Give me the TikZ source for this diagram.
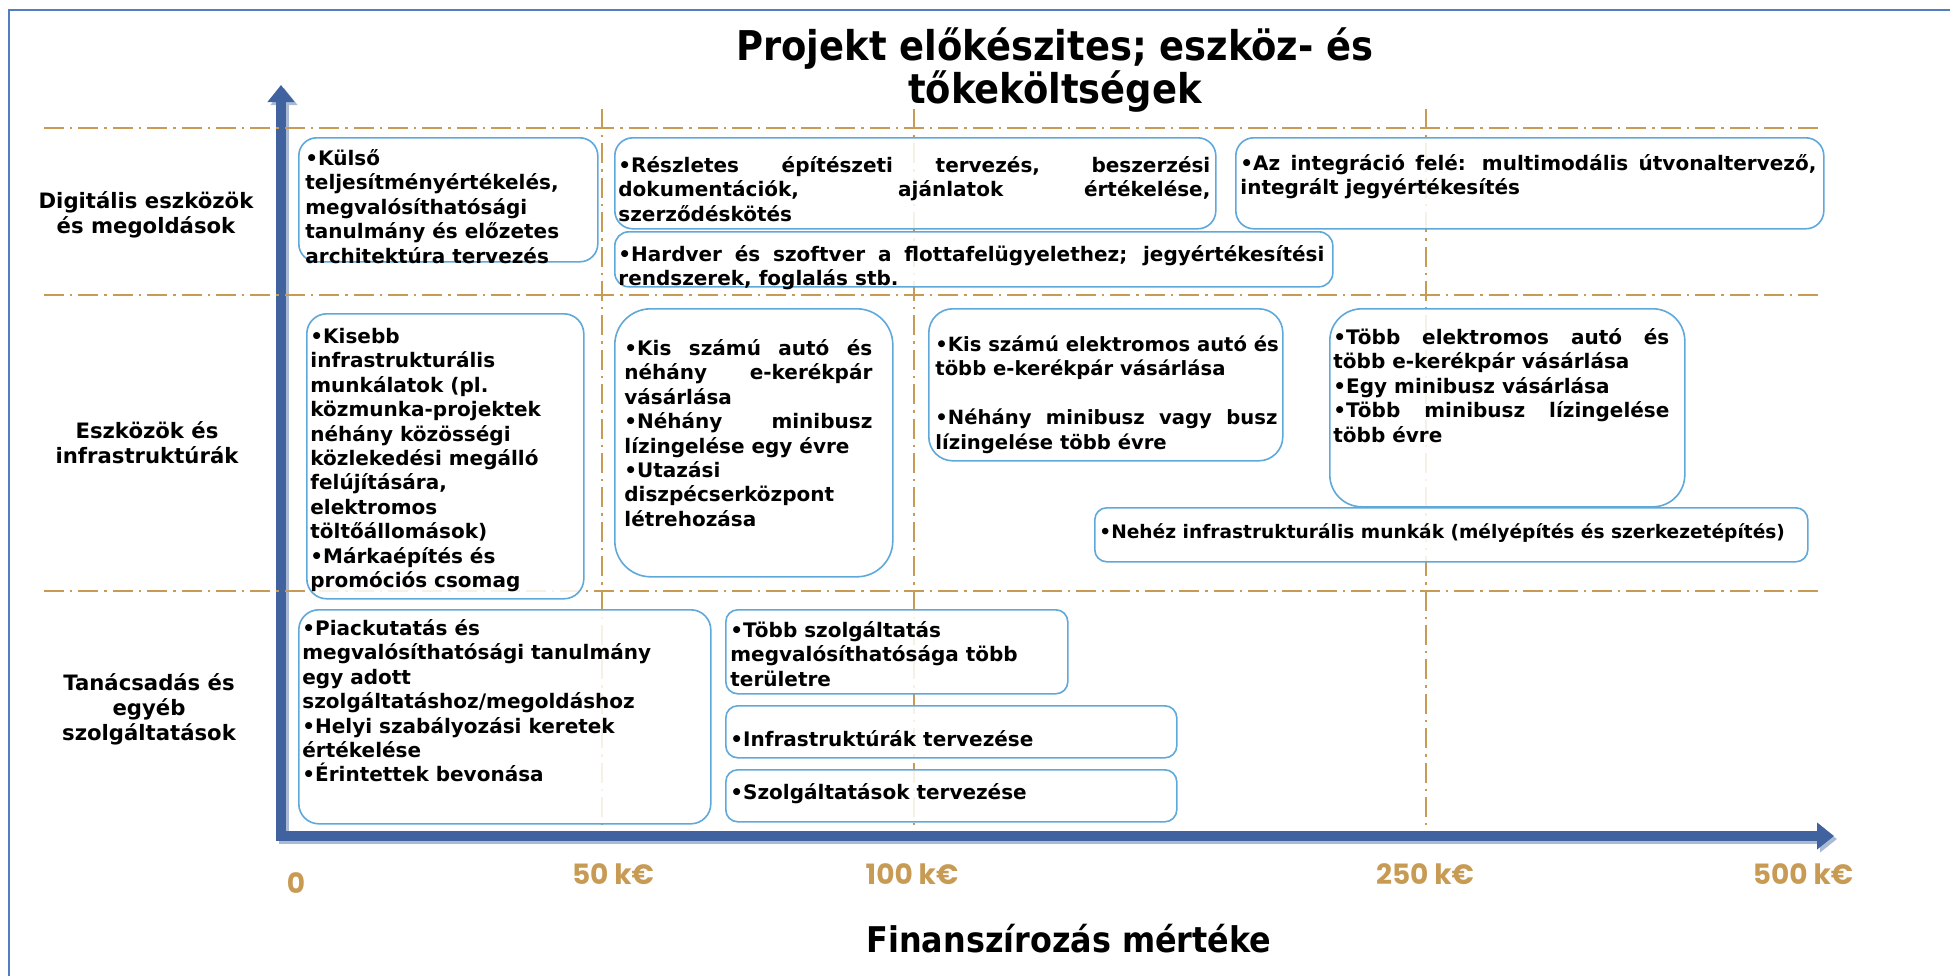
\documentclass[tikz,border=0pt]{standalone}
\usepackage{fontspec}
\setmainfont{DejaVu Sans}
\newfontfamily\titlefont[FakeStretch=0.9]{DejaVu Sans}
\newfontfamily\scalefont{Poppins}
\usetikzlibrary{positioning,arrows.meta}

\definecolor{gridtan}{RGB}{200,155,85}
\definecolor{axisblue}{RGB}{64,98,158}
\definecolor{axisshade}{RGB}{170,185,212}
\definecolor{boxblue}{RGB}{95,168,218}
\definecolor{frameblue}{RGB}{82,125,190}

\newcommand{\jl}[2]{\makebox[#1][s]{#2}}
\newcommand{\fl}{\rule{0pt}{9pt}}

\begin{document}
\begin{tikzpicture}[x=0.5pt,y=-0.5pt,
  boxframe/.style={draw=boxblue, line width=0.8pt, fill=white, fill opacity=0.85,
    rounded corners=#1, anchor=north west, inner sep=0pt},
  boxframe/.default=8pt,
  boxtext/.style={anchor=north west, inner sep=0pt, align=left,
    font=\fontsize{10}{12.2}\selectfont\bfseries},
  rowlabel/.style={align=center, inner sep=0pt, font=\fontsize{10.6}{12.6}\selectfont\bfseries},
  scalelabel/.style={text=gridtan, inner sep=0pt, font=\scalefont\fontsize{14}{14}\selectfont\bfseries},
  gridline/.style={draw=gridtan, line width=1.2pt, dash pattern=on 10pt off 3pt on 1.2pt off 3pt},
  axisline/.style={line width=5.4pt, line join=miter,
    {Triangle[width=13pt,length=8.5pt]}-{Triangle[width=13pt,length=8.5pt]}}]
  \useasboundingbox (0,0) rectangle (1950,976);

  % frame
  \draw[frameblue, line width=0.8pt] (9,976) -- (9,10) -- (1950,10);

  % axes
  \coordinate (ytip) at (281,85);
  \coordinate (origin) at (281,836);
  \coordinate (xtip) at (1834,836);
  \draw[axisline, axisshade] ([shift={(3,3)}]ytip) -- ([shift={(3,3)}]origin) -- ([shift={(3,3)}]xtip);
  \draw[axisline, axisblue] (ytip) -- (origin) -- (xtip);

  % grid
  \draw[gridline] (44,128) -- (1822,128);
  \draw[gridline] (44,295) -- (1822,295);
  \draw[gridline] (44,591) -- (1822,591);
  \draw[gridline] (602,109) -- (602,830);
  \draw[gridline] (914,109) -- (914,830);
  \draw[gridline] (1426,109) -- (1426,830);

  \node[font=\titlefont\fontsize{20.5}{17.5}\selectfont\bfseries, align=center] (title) at (1055,70)
    {Projekt előkészites; eszköz- és\\tőkeköltségek};

  \node[rowlabel] (rowdigital) at (146,215) {Digitális eszközök\\és megoldások};
  \node[rowlabel] (rowasset) at (147,443) {Eszközök és\\infrastruktúrák};
  \node[rowlabel] (rowconsult) at (149,709) {Tanácsadás és\\egyéb\\szolgáltatások};

  % digital row
  \node[boxframe=9pt, minimum width=149.5pt, minimum height=62pt] (kulso) at (298,137) {};
  \node[boxtext, below right=5pt and 3.5pt of kulso.north west] (kulsotext)
    {\fl•Külső\\teljesítményértékelés,\\megvalósíthatósági\\tanulmány és előzetes\\architektúra tervezés};

  \node[boxframe=9pt, minimum width=300.5pt, minimum height=45.5pt] (reszletes) at (614,137) {};
  \node[boxtext, below right=8.5pt and 2pt of reszletes.north west] (reszletestext)
    {\fl\jl{296pt}{•Részletes építészeti tervezés, beszerzési}\\
     \jl{296pt}{dokumentációk, ajánlatok értékelése,}\\szerződéskötés};

  \node[boxframe=7pt, minimum width=359pt, minimum height=27.5pt] (hardver) at (614,231) {};
  \node[boxtext, below right=6pt and 2pt of hardver.north west] (hardvertext)
    {\fl\jl{353pt}{•Hardver és szoftver a flottafelügyelethez; jegyértékesítési}\\
     rendszerek, foglalás stb.};

  \node[boxframe=9pt, minimum width=294pt, minimum height=45.5pt] (integracio) at (1235,137) {};
  \node[boxtext, below right=7.5pt and 2.5pt of integracio.north west] (integraciotext)
    {\fl\jl{288pt}{•Az integráció felé: multimodális útvonaltervező,}\\integrált jegyértékesítés};

  % asset row
  \node[boxframe=10pt, minimum width=138.5pt, minimum height=142.5pt] (kisebb) at (306,313) {};
  \node[boxtext, below right=6pt and 2pt of kisebb.north west] (kisebbtext)
    {\fl•Kisebb\\infrastrukturális\\munkálatok (pl.\\közmunka-projektek\\néhány közösségi\\
     közlekedési megálló\\felújítására,\\elektromos\\töltőállomások)\\•Márkaépítés és\\promóciós csomag};

  \node[boxframe=18pt, minimum width=139pt, minimum height=134pt] (kisauto) at (614,308) {};
  \node[boxtext, below right=14.5pt and 5pt of kisauto.north west] (kisautotext)
    {\fl\jl{124pt}{•Kis számú autó és}\\\jl{124pt}{néhány e-kerékpár}\\vásárlása\\
     \jl{124pt}{•Néhány minibusz}\\lízingelése egy évre\\•Utazási\\diszpécserközpont\\létrehozása};

  \node[boxframe=12pt, minimum width=177pt, minimum height=76pt] (kiselektro) at (928,308) {};
  \node[boxtext, font=\fontsize{9.8}{12.2}\selectfont\bfseries,
    below right=12.5pt and 3.5pt of kiselektro.north west] (kiselektrotext)
    {\fl•Kis számú elektromos autó és\\több e-kerékpár vásárlása\\[12.2pt]
     \jl{171pt}{•Néhány minibusz vagy busz}\\lízingelése több évre};

  \node[boxframe=16pt, minimum width=177.5pt, minimum height=99pt] (tobbelektro) at (1329,308) {};
  \node[boxtext, below right=9pt and 2pt of tobbelektro.north west] (tobbelektrotext)
    {\fl\jl{168pt}{•Több elektromos autó és}\\több e-kerékpár vásárlása\\•Egy minibusz vásárlása\\
     \jl{168pt}{•Több minibusz lízingelése}\\több évre};

  \node[boxframe=6pt, minimum width=356.5pt, minimum height=27pt] (nehez) at (1094,507) {};
  \node[boxtext, font=\fontsize{9.3}{12.2}\selectfont\bfseries,
    below right=6.5pt and 2.5pt of nehez.north west] (neheztext)
    {\fl•Nehéz infrastrukturális munkák (mélyépítés és szerkezetépítés)};

  % consulting row
  \node[boxframe=10pt, minimum width=206pt, minimum height=107pt] (piac) at (298,609) {};
  \node[boxtext, below right=4pt and 2pt of piac.north west] (piactext)
    {\fl•Piackutatás és\\megvalósíthatósági tanulmány\\egy adott\\szolgáltatáshoz/megoldáshoz\\
     •Helyi szabályozási keretek\\értékelése\\•Érintettek bevonása};

  \node[boxframe=6pt, minimum width=171pt, minimum height=42pt] (tobbszolg) at (725,609) {};
  \node[boxtext, below right=5pt and 2.5pt of tobbszolg.north west] (tobbszolgtext)
    {\fl•Több szolgáltatás\\megvalósíthatósága több\\területre};

  \node[boxframe=6pt, minimum width=225.5pt, minimum height=26pt] (infra) at (725,705) {};
  \node[boxtext, below right=11.5pt and 2.5pt of infra.north west] (infratext)
    {\fl•Infrastruktúrák tervezése};

  \node[boxframe=6pt, minimum width=225.5pt, minimum height=26pt] (szolg) at (725,769) {};
  \node[boxtext, below right=6pt and 2.5pt of szolg.north west] (szolgtext)
    {\fl•Szolgáltatások tervezése};

  % scale
  \node[scalelabel] (s0) at (296,883) {0};
  \node[scalelabel] (s50) at (613,874) {50 k€};
  \node[scalelabel] (s100) at (912,874) {100 k€};
  \node[scalelabel] (s250) at (1425,874) {250 k€};
  \node[scalelabel] (s500) at (1803,874) {500 k€};

  \node[font=\titlefont\fontsize{17.7}{18}\selectfont\bfseries] (funding) at (1069,939) {Finanszírozás mértéke};
\end{tikzpicture}
\end{document}
